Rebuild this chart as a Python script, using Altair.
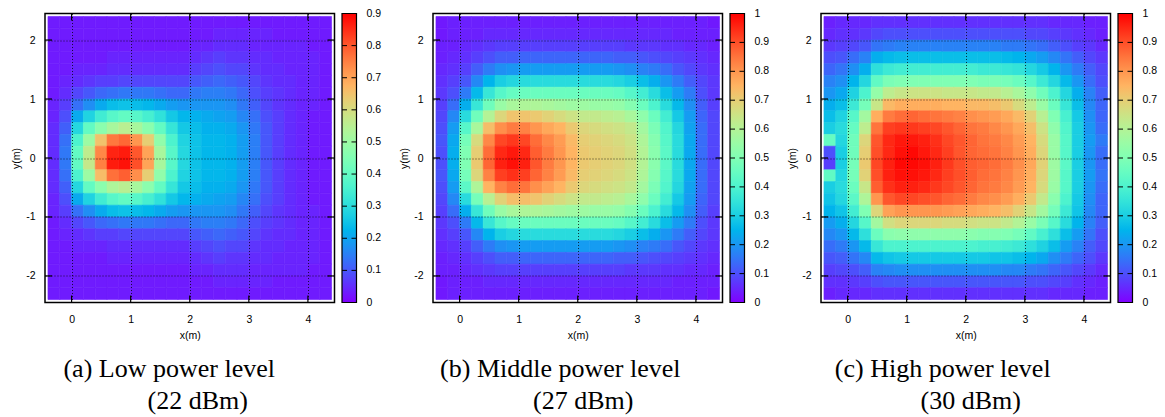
import altair as alt
import pandas as pd

# ---------------------------------------------------------------------------
# Measured received-power maps (normalised), one value per 0.2 m x 0.2 m cell.
# Values are stored in hundredths; rows run from y = 2.3 (top) to y = -2.3.
# ---------------------------------------------------------------------------
X_CENTERS = [-0.3, -0.1, 0.1, 0.3, 0.5, 0.7, 0.9, 1.1, 1.3, 1.5, 1.7, 1.9,
             2.1, 2.3, 2.5, 2.7, 2.9, 3.1, 3.3, 3.5, 3.7, 3.9, 4.1, 4.3]
Y_CENTERS = [2.3, 2.1, 1.9, 1.7, 1.5, 1.3, 1.1, 0.9, 0.7, 0.5, 0.3, 0.1,
             -0.1, -0.3, -0.5, -0.7, -0.9, -1.1, -1.3, -1.5, -1.7, -1.9, -2.1, -2.3]
CELL = 0.2

LOW_22DBM = [
    [3, 3, 3, 3, 3, 3, 3, 3, 3, 3, 3, 3, 3, 3, 3, 3, 3, 3, 3, 3, 3, 3, 3, 3],
    [3, 3, 3, 3, 3, 3, 3, 3, 3, 3, 3, 3, 3, 3, 4, 4, 4, 4, 4, 3, 3, 3, 3, 3],
    [3, 3, 3, 3, 3, 3, 3, 3, 3, 3, 3, 3, 4, 4, 5, 5, 5, 4, 4, 4, 4, 4, 3, 3],
    [3, 3, 3, 3, 3, 4, 4, 4, 4, 4, 4, 4, 5, 6, 7, 6, 6, 5, 5, 4, 4, 4, 4, 3],
    [3, 3, 4, 4, 4, 5, 5, 5, 5, 5, 5, 5, 7, 8, 9, 8, 8, 6, 5, 5, 4, 4, 4, 3],
    [3, 4, 5, 6, 7, 7, 8, 8, 8, 8, 8, 8, 10, 11, 12, 11, 10, 8, 6, 5, 5, 4, 4, 3],
    [3, 5, 8, 10, 12, 13, 14, 14, 14, 13, 12, 12, 14, 15, 15, 14, 12, 9, 7, 6, 5, 4, 4, 3],
    [4, 7, 13, 17, 21, 24, 25, 24, 23, 21, 19, 18, 18, 18, 18, 17, 14, 11, 8, 6, 5, 4, 4, 3],
    [4, 9, 21, 28, 34, 38, 40, 38, 35, 31, 26, 23, 22, 21, 20, 19, 16, 13, 9, 7, 5, 4, 3, 3],
    [5, 11, 29, 40, 47, 52, 55, 52, 47, 40, 32, 26, 24, 22, 22, 21, 18, 14, 10, 7, 5, 4, 3, 3],
    [5, 13, 36, 50, 65, 76, 78, 72, 63, 48, 36, 28, 25, 23, 23, 22, 19, 15, 10, 7, 5, 4, 3, 3],
    [5, 14, 40, 56, 74, 86, 87, 80, 70, 52, 38, 29, 25, 23, 23, 22, 19, 15, 10, 7, 5, 4, 3, 3],
    [5, 14, 40, 57, 75, 87, 88, 81, 70, 52, 38, 29, 25, 23, 23, 22, 19, 15, 10, 7, 5, 4, 3, 3],
    [5, 13, 36, 50, 66, 77, 79, 73, 63, 48, 36, 28, 25, 23, 23, 22, 19, 15, 10, 7, 5, 4, 3, 3],
    [5, 11, 29, 40, 47, 53, 55, 52, 47, 40, 32, 26, 24, 22, 22, 21, 18, 14, 10, 7, 5, 4, 3, 3],
    [4, 9, 21, 28, 34, 38, 40, 38, 35, 31, 26, 23, 22, 21, 20, 19, 16, 13, 9, 7, 5, 4, 3, 3],
    [4, 7, 13, 17, 21, 24, 25, 24, 23, 21, 19, 18, 18, 18, 18, 17, 14, 11, 8, 6, 5, 4, 4, 3],
    [3, 5, 8, 10, 12, 13, 14, 14, 14, 13, 12, 12, 14, 15, 15, 14, 12, 9, 7, 6, 5, 4, 4, 3],
    [3, 4, 5, 6, 7, 7, 8, 8, 8, 8, 8, 8, 10, 11, 12, 11, 10, 8, 6, 5, 5, 4, 4, 3],
    [3, 3, 4, 4, 4, 5, 5, 5, 5, 5, 5, 5, 7, 8, 9, 8, 8, 6, 5, 5, 4, 4, 4, 3],
    [3, 3, 3, 3, 3, 4, 4, 4, 4, 4, 4, 4, 5, 6, 7, 6, 6, 5, 5, 4, 4, 4, 4, 3],
    [3, 3, 3, 3, 3, 3, 3, 3, 3, 3, 3, 3, 4, 4, 5, 5, 5, 4, 4, 4, 4, 4, 3, 3],
    [3, 3, 3, 3, 3, 3, 3, 3, 3, 3, 3, 3, 3, 3, 4, 4, 4, 4, 4, 3, 3, 3, 3, 3],
    [3, 3, 3, 3, 3, 3, 3, 3, 3, 3, 3, 3, 3, 3, 3, 3, 3, 3, 3, 3, 3, 3, 3, 3],
]

MID_27DBM = [
    [3, 4, 4, 4, 4, 4, 4, 4, 4, 4, 4, 4, 4, 4, 4, 4, 4, 4, 4, 4, 4, 4, 4, 3],
    [3, 4, 4, 4, 5, 5, 5, 5, 5, 5, 5, 5, 5, 5, 5, 5, 5, 5, 5, 5, 4, 4, 4, 4],
    [4, 4, 5, 6, 7, 8, 8, 8, 8, 8, 8, 8, 8, 8, 8, 8, 7, 7, 7, 6, 6, 5, 5, 4],
    [4, 5, 6, 8, 10, 12, 12, 13, 13, 13, 13, 13, 13, 13, 13, 12, 12, 11, 10, 9, 8, 7, 6, 5],
    [5, 6, 8, 12, 16, 19, 20, 21, 21, 21, 21, 21, 21, 21, 21, 20, 19, 17, 16, 14, 11, 9, 7, 6],
    [6, 8, 11, 18, 25, 30, 32, 33, 33, 33, 33, 33, 33, 33, 33, 32, 30, 27, 24, 20, 16, 12, 9, 7],
    [7, 10, 16, 26, 36, 42, 45, 46, 46, 46, 46, 46, 46, 46, 46, 45, 42, 38, 33, 27, 21, 16, 10, 7],
    [8, 14, 24, 36, 47, 55, 58, 59, 59, 58, 57, 56, 56, 55, 55, 54, 51, 46, 40, 33, 26, 19, 12, 8],
    [9, 18, 33, 47, 60, 68, 72, 72, 71, 69, 67, 65, 63, 63, 62, 61, 58, 53, 46, 38, 29, 21, 13, 9],
    [10, 21, 42, 58, 73, 81, 84, 83, 80, 77, 75, 71, 68, 67, 66, 65, 63, 57, 49, 41, 32, 22, 14, 9],
    [11, 23, 48, 67, 82, 91, 93, 91, 86, 82, 79, 74, 70, 69, 68, 67, 65, 59, 51, 42, 33, 23, 14, 9],
    [10, 24, 50, 70, 86, 95, 97, 95, 88, 84, 80, 75, 71, 70, 69, 68, 66, 60, 52, 43, 33, 23, 14, 9],
    [10, 24, 50, 71, 87, 96, 98, 96, 89, 84, 80, 75, 71, 70, 69, 68, 66, 60, 52, 43, 33, 23, 14, 9],
    [11, 23, 48, 68, 83, 92, 94, 92, 87, 83, 79, 74, 70, 69, 68, 67, 65, 59, 51, 42, 33, 23, 14, 9],
    [10, 21, 43, 59, 75, 83, 86, 85, 81, 78, 75, 71, 68, 67, 66, 65, 63, 57, 49, 41, 32, 22, 14, 9],
    [9, 18, 33, 48, 61, 69, 73, 73, 72, 69, 67, 65, 63, 63, 62, 61, 58, 53, 46, 38, 29, 21, 13, 9],
    [8, 14, 24, 36, 47, 55, 58, 59, 59, 58, 57, 56, 56, 55, 55, 54, 51, 46, 40, 33, 26, 19, 12, 8],
    [7, 10, 16, 26, 36, 42, 45, 46, 46, 46, 46, 46, 46, 46, 46, 45, 42, 38, 33, 27, 21, 16, 10, 7],
    [6, 8, 11, 18, 25, 30, 32, 33, 33, 33, 33, 33, 33, 33, 33, 32, 30, 27, 24, 20, 16, 12, 9, 7],
    [5, 6, 8, 12, 16, 19, 20, 21, 21, 21, 21, 21, 21, 21, 21, 20, 19, 17, 16, 14, 11, 9, 7, 6],
    [4, 5, 6, 8, 10, 12, 12, 13, 13, 13, 13, 13, 13, 13, 13, 12, 12, 11, 10, 9, 8, 7, 6, 5],
    [4, 4, 5, 6, 7, 8, 8, 8, 8, 8, 8, 8, 8, 8, 8, 8, 7, 7, 7, 6, 6, 5, 5, 4],
    [3, 4, 4, 4, 5, 5, 5, 5, 5, 5, 5, 5, 5, 5, 5, 5, 5, 5, 5, 5, 4, 4, 4, 4],
    [3, 4, 4, 4, 4, 4, 4, 4, 4, 4, 4, 4, 4, 4, 4, 4, 4, 4, 4, 4, 4, 4, 4, 3],
]

HIGH_30DBM = [
    [4, 5, 5, 5, 6, 6, 6, 6, 6, 6, 6, 6, 6, 6, 6, 6, 6, 6, 6, 5, 5, 5, 4, 4],
    [5, 6, 6, 7, 9, 10, 10, 10, 10, 10, 10, 10, 10, 10, 10, 10, 10, 9, 9, 8, 7, 6, 5, 4],
    [7, 8, 9, 11, 15, 16, 17, 17, 17, 17, 17, 17, 17, 17, 17, 16, 16, 15, 14, 12, 10, 8, 7, 5],
    [10, 11, 14, 17, 24, 26, 27, 27, 27, 27, 27, 27, 27, 27, 27, 26, 25, 23, 21, 18, 15, 12, 9, 7],
    [13, 15, 19, 24, 34, 37, 38, 38, 38, 38, 38, 38, 38, 37, 37, 36, 35, 32, 29, 25, 20, 16, 12, 9],
    [17, 19, 25, 32, 44, 49, 50, 50, 50, 50, 50, 50, 50, 49, 49, 48, 46, 42, 37, 32, 26, 20, 14, 10],
    [20, 23, 31, 40, 54, 62, 64, 65, 65, 65, 64, 64, 64, 63, 63, 61, 58, 53, 47, 40, 32, 24, 17, 12],
    [24, 27, 37, 48, 64, 74, 76, 76, 76, 76, 75, 75, 74, 74, 73, 71, 67, 62, 55, 46, 36, 27, 18, 13],
    [27, 31, 42, 57, 76, 84, 86, 87, 86, 85, 84, 83, 81, 80, 79, 77, 74, 69, 61, 50, 39, 29, 19, 13],
    [30, 33, 45, 62, 85, 92, 93, 93, 92, 91, 89, 87, 85, 84, 82, 80, 77, 73, 65, 53, 41, 30, 20, 14],
    [45, 32, 47, 68, 89, 95, 97, 97, 96, 94, 91, 89, 87, 85, 84, 82, 79, 75, 67, 55, 42, 30, 21, 16],
    [10, 30, 47, 70, 90, 95, 98, 99, 97, 95, 92, 89, 87, 86, 85, 83, 80, 76, 68, 55, 42, 30, 20, 14],
    [8, 30, 48, 71, 91, 96, 99, 99, 98, 96, 93, 90, 88, 87, 86, 84, 81, 77, 69, 56, 43, 30, 20, 14],
    [44, 32, 48, 69, 90, 96, 98, 98, 97, 95, 92, 90, 88, 86, 85, 83, 80, 76, 68, 56, 42, 30, 21, 15],
    [30, 33, 46, 64, 88, 94, 96, 96, 95, 93, 91, 89, 87, 85, 84, 82, 79, 75, 67, 55, 42, 30, 20, 14],
    [28, 32, 43, 59, 80, 89, 91, 91, 90, 89, 87, 86, 84, 82, 81, 79, 76, 71, 63, 52, 40, 29, 19, 13],
    [25, 28, 38, 50, 68, 78, 80, 80, 80, 80, 79, 78, 77, 76, 75, 73, 69, 64, 57, 48, 37, 28, 18, 13],
    [21, 24, 32, 42, 57, 66, 68, 68, 68, 68, 67, 67, 66, 65, 65, 63, 60, 55, 49, 42, 33, 25, 17, 12],
    [18, 20, 26, 34, 46, 52, 53, 53, 53, 53, 53, 53, 52, 51, 51, 50, 48, 44, 39, 34, 27, 21, 15, 10],
    [14, 16, 20, 26, 36, 40, 40, 40, 40, 40, 40, 40, 40, 39, 39, 38, 37, 34, 31, 27, 21, 17, 12, 9],
    [11, 12, 15, 18, 26, 28, 29, 29, 29, 29, 29, 29, 29, 29, 28, 28, 27, 25, 23, 19, 16, 13, 10, 7],
    [8, 9, 10, 12, 17, 18, 19, 19, 19, 19, 19, 19, 19, 19, 19, 18, 18, 16, 15, 13, 11, 9, 7, 5],
    [6, 6, 7, 8, 10, 11, 11, 11, 11, 11, 11, 11, 11, 11, 11, 11, 11, 10, 10, 9, 8, 6, 5, 4],
    [4, 5, 5, 5, 6, 6, 6, 6, 6, 6, 6, 6, 6, 6, 6, 6, 6, 6, 6, 5, 5, 5, 4, 4],
]

X_TICKS = [0, 1, 2, 3, 4]
Y_TICKS = [-2, -1, 0, 1, 2]

CB_TICKS_LOW = [0, 0.1, 0.2, 0.3, 0.4, 0.5, 0.6, 0.7, 0.8, 0.9]
CB_LABELS_LOW = ["0", "0.1", "0.2", "0.3", "0.4", "0.5", "0.6", "0.7", "0.8", "0.9"]
CB_TICKS_FULL = [0, 0.1, 0.2, 0.3, 0.4, 0.5, 0.6, 0.7, 0.8, 0.9, 1.0]
CB_LABELS_FULL = ["0", "0.1", "0.2", "0.3", "0.4", "0.5", "0.6", "0.7", "0.8", "0.9", "1"]

CAPTIONS = [
    ("(a) Low power level", "(22 dBm)"),
    ("(b) Middle power level", "(27 dBm)"),
    ("(c) High power level", "(30 dBm)"),
]

# gnuplot "rainbow" palette (rgbformulae 33,13,10), sampled every 5 %
PALETTE = ["#8000ff", "#6628fe", "#4d4ffc", "#3374f8", "#1a96f3", "#00b4ec",
           "#1acee3", "#33e3d9", "#4df3ce", "#66fcc2", "#80ffb4", "#99fca6",
           "#b3f396", "#cce385", "#e6ce74", "#ffb462", "#ff964f", "#ff743c",
           "#ff4f28", "#ff2814", "#ff0000"]

# ---------------------------------------------------------------------------
# Layout / style
# ---------------------------------------------------------------------------
W, H = 289.5, 289          # plot frame
CBW = 14.5                 # colour-bar thickness
CB_VIEW = 83.5             # colour bar + room for its labels + gap to next panel
TICK = 7                   # inward tick length (px)
XDOM = [-0.45, 4.45]
YDOM = [-2.45, 2.45]
SANS = "Liberation Sans"
SERIF = "Liberation Serif"
FS = 10.5


def grid_frame(rows):
    assert len(rows) == len(Y_CENTERS)
    recs = []
    for yc, row in zip(Y_CENTERS, rows):
        assert len(row) == len(X_CENTERS)
        for xc, v in zip(X_CENTERS, row):
            recs.append({"x0": xc - CELL / 2, "x1": xc + CELL / 2,
                         "y0": yc - CELL / 2, "y1": yc + CELL / 2, "v": v / 100})
    return pd.DataFrame(recs)


def axis(values, title, label_pad, title_pad):
    return alt.Axis(values=values, title=title, ticks=False, tickSize=0, domain=False,
                    grid=True, gridColor="#000", gridDash=[1, 2], gridWidth=0.9,
                    gridOpacity=0.85, labelFont=SANS, labelFontSize=FS, labelColor="#000",
                    labelPadding=label_pad, labelExpr="'' + datum.value",
                    titleFont=SANS, titleFontSize=FS, titleFontWeight="normal",
                    titleColor="#000", titlePadding=title_pad, zindex=1)


XAXIS = axis(X_TICKS, "x(m)", 12, 5)
YAXIS = axis(Y_TICKS, "y(m)", 10, 4)


def heat_panel(rows, vmax, cap, cx1, cx2):
    xs = alt.Scale(domain=XDOM, nice=False, zero=False)
    ys = alt.Scale(domain=YDOM, nice=False, zero=False)
    stops = [vmax * i / (len(PALETTE) - 1) for i in range(len(PALETTE))]
    cs = alt.Scale(domain=stops, range=PALETTE, interpolate="rgb", clamp=True)

    heat = alt.Chart(grid_frame(rows)).mark_rect(strokeWidth=0.6).encode(
        x=alt.X("x0:Q", scale=xs, axis=XAXIS), x2="x1:Q",
        y=alt.Y("y0:Q", scale=ys, axis=YAXIS), y2="y1:Q",
        color=alt.Color("v:Q", scale=cs, legend=None),
        stroke=alt.Stroke("v:Q", scale=cs, legend=None),
    )

    xt = pd.DataFrame({"t": X_TICKS})
    yt = pd.DataFrame({"t": Y_TICKS})
    rule = dict(color="#000", strokeWidth=1.2)
    bottom = alt.Chart(xt).mark_rule(**rule).encode(
        x=alt.X("t:Q", scale=xs, axis=XAXIS), y=alt.value(H), y2=alt.value(H - TICK))
    top = alt.Chart(xt).mark_rule(**rule).encode(
        x=alt.X("t:Q", scale=xs, axis=XAXIS), y=alt.value(0), y2=alt.value(TICK))
    left = alt.Chart(yt).mark_rule(**rule).encode(
        y=alt.Y("t:Q", scale=ys, axis=YAXIS), x=alt.value(0), x2=alt.value(TICK))
    right = alt.Chart(yt).mark_rule(**rule).encode(
        y=alt.Y("t:Q", scale=ys, axis=YAXIS), x=alt.value(W), x2=alt.value(W - TICK))

    txt = dict(font=SERIF, fontSize=26, align="center", baseline="alphabetic", color="#000")
    line1 = alt.Chart(pd.DataFrame({"t": [cap[0]]})).mark_text(**txt).encode(
        text="t:N", x=alt.value(cx1), y=alt.value(363.3))
    line2 = alt.Chart(pd.DataFrame({"t": [cap[1]]})).mark_text(**txt).encode(
        text="t:N", x=alt.value(cx2), y=alt.value(395.3))

    return alt.layer(heat, bottom, top, left, right, line1, line2).properties(width=W, height=H)


def colour_bar(vmax, ticks, labels, view_w):
    ys = alt.Scale(domain=[0, vmax], nice=False, zero=False)
    grad = alt.LinearGradient(
        gradient="linear",
        stops=[alt.GradientStop(color=c, offset=i / (len(PALETTE) - 1))
               for i, c in enumerate(PALETTE)],
        x1=0, x2=0, y1=1, y2=0)
    bar = alt.Chart(pd.DataFrame({"lo": [0.0], "hi": [vmax]})).mark_rect(
        color=grad, stroke="#000", strokeWidth=1.2).encode(
        y=alt.Y("lo:Q", scale=ys, axis=None), y2="hi:Q",
        x=alt.value(0), x2=alt.value(CBW))
    inner = pd.DataFrame({"t": [t for t in ticks if 0 < t < vmax]})
    dashes = alt.Chart(inner).mark_rule(color="#000", strokeWidth=1, strokeDash=[5, 4.5]).encode(
        y=alt.Y("t:Q", scale=ys, axis=None), x=alt.value(0), x2=alt.value(CBW))
    labs = alt.Chart(pd.DataFrame({"t": ticks, "lab": labels})).mark_text(
        align="left", baseline="middle", font=SANS, fontSize=FS, color="#000").encode(
        y=alt.Y("t:Q", scale=ys, axis=None), x=alt.value(CBW + 10), text="lab:N")
    return alt.layer(bar, dashes, labs).properties(
        width=view_w, height=H, view=alt.ViewBackground(stroke="transparent"))


heat_a = heat_panel(LOW_22DBM, 0.9, CAPTIONS[0], 124.2, 152.7)
heat_b = heat_panel(MID_27DBM, 1.0, CAPTIONS[1], 127.3, 150.3)
heat_c = heat_panel(HIGH_30DBM, 1.0, CAPTIONS[2], 121.7, 149.7)
cb_a = colour_bar(0.9, CB_TICKS_LOW, CB_LABELS_LOW, CB_VIEW)
cb_b = colour_bar(1.0, CB_TICKS_FULL, CB_LABELS_FULL, CB_VIEW)
cb_c = colour_bar(1.0, CB_TICKS_FULL, CB_LABELS_FULL, 40)

chart = alt.hconcat(
    heat_a, cb_a, heat_b, cb_b, heat_c, cb_c, spacing=7, bounds="flush"
).resolve_scale(
    color="independent", stroke="independent"
).properties(
    padding={"left": 10, "top": 7.5, "right": 5, "bottom": 0},
    background="white",
).configure_view(stroke="#000", strokeWidth=1.5)

chart.save("out.html", embed_options={"renderer": "svg", "actions": False})
